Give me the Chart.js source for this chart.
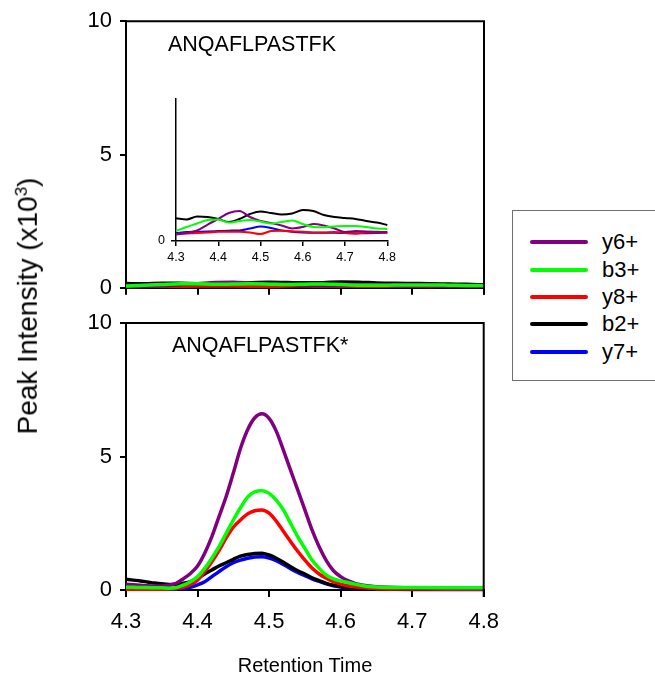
<!DOCTYPE html>
<html>
<head>
<meta charset="utf-8">
<script src="https://cdn.jsdelivr.net/npm/chart.js@4.4.1/dist/chart.umd.min.js"></script>
<style>
  body { margin: 0; background: #fff; font-family: "Liberation Sans", Arial, sans-serif; }
  #wrap { position: relative; width: 655px; height: 685px; overflow: hidden; }
  canvas { position: absolute; }
  .peptide { position: absolute; font-size: 21.5px; color: #000; line-height: 24px; white-space: nowrap; }
  #ytitle { position: absolute; left: 28px; top: 306px; transform: translate(-50%, -50%) rotate(-90deg);
            font-size: 28px; white-space: nowrap; }
  #ytitle sup { font-size: 17px; }
  #xtitle { position: absolute; left: 305px; top: 665px; transform: translate(-50%, -50%);
            font-size: 20px; white-space: nowrap; }
  #legend { position: absolute; left: 512px; top: 210px; width: 160px; height: 171px;
            border: 1px solid #707070; box-sizing: border-box; }
  .item { position: absolute; left: 17px; height: 24px; }
  .item span.ln { position: absolute; left: 0; top: 10px; width: 58px; height: 4px; border-radius: 2px; }
  .item span.tx { position: absolute; left: 72px; top: -1px; font-size: 22px; line-height: 26px; }
</style>
</head>
<body>
<div id="wrap">
  <canvas id="topChart" width="500" height="309" style="left:0;top:0"></canvas>
  <canvas id="bottomChart" width="511" height="385" style="left:0;top:300px"></canvas>
  <canvas id="insetChart" width="270" height="185" style="left:130px;top:85px"></canvas>
  <div class="peptide" style="left:168px;top:32px">ANQAFLPASTFK</div>
  <div class="peptide" style="left:172px;top:333px">ANQAFLPASTFK*</div>
  <div id="ytitle">Peak Intensity (x10<sup>3</sup>)</div>
  <div id="xtitle">Retention Time</div>
  <div id="legend"></div>
</div>
<script>
const FONT = '"Liberation Sans", Arial, sans-serif';

const seriesNames = ['y6+', 'b3+', 'y8+', 'b2+', 'y7+'];
const seriesColors = ['#800080', '#00FF00', '#FF0000', '#000000', '#0000FF'];
// green is drawn on top of the others
const seriesOrder = [1, 0, 2, 3, 4];

const xTicks = [4.3, 4.4, 4.5, 4.6, 4.7, 4.8];
const yTicks = [0, 5, 10];

// ANQAFLPASTFK (top panel + inset)
const timeTop = [4.3, 4.325, 4.35, 4.375, 4.4, 4.425, 4.45, 4.475, 4.5, 4.525, 4.55,
  4.575, 4.6, 4.625, 4.65, 4.675, 4.7, 4.725, 4.75, 4.775, 4.8];
const topY6 = [0.046, 0.056, 0.074, 0.116, 0.155, 0.197, 0.211, 0.169, 0.141, 0.127, 0.109,
  0.088, 0.099, 0.120, 0.109, 0.088, 0.063, 0.070, 0.067, 0.065, 0.063];
const topB3 = [0.070, 0.099, 0.123, 0.148, 0.151, 0.130, 0.141, 0.148, 0.137, 0.123, 0.134,
  0.144, 0.120, 0.099, 0.097, 0.102, 0.106, 0.106, 0.099, 0.088, 0.085];
const topY8 = [0.049, 0.053, 0.056, 0.060, 0.065, 0.065, 0.065, 0.060, 0.049, 0.070, 0.073,
  0.069, 0.065, 0.060, 0.060, 0.063, 0.056, 0.051, 0.060, 0.060, 0.058];
const topB2 = [0.160, 0.151, 0.173, 0.169, 0.155, 0.134, 0.155, 0.190, 0.208, 0.197, 0.187,
  0.194, 0.218, 0.211, 0.183, 0.169, 0.162, 0.155, 0.141, 0.130, 0.113];
const topY7 = [0.056, 0.063, 0.065, 0.067, 0.070, 0.073, 0.074, 0.088, 0.102, 0.092, 0.074,
  0.065, 0.060, 0.058, 0.058, 0.058, 0.056, 0.055, 0.055, 0.056, 0.058];

// ANQAFLPASTFK* (bottom panel)
const timeBottom = [4.30, 4.31, 4.32, 4.33, 4.34, 4.35, 4.36, 4.37, 4.38, 4.39,
  4.40, 4.41, 4.42, 4.43, 4.44, 4.45, 4.46, 4.47, 4.48, 4.49,
  4.50, 4.51, 4.52, 4.53, 4.54, 4.55, 4.56, 4.57, 4.58, 4.59,
  4.60, 4.61, 4.62, 4.63, 4.64, 4.65, 4.70, 4.75, 4.80];
const botY6 = [0.22, 0.20, 0.18, 0.16, 0.15, 0.15, 0.18, 0.25, 0.42, 0.62,
  0.90, 1.38, 2.00, 2.75, 3.50, 4.38, 5.30, 6.00, 6.45, 6.60,
  6.43, 5.95, 5.24, 4.49, 3.75, 3.00, 2.25, 1.62, 1.10, 0.72,
  0.50, 0.35, 0.25, 0.19, 0.15, 0.12, 0.08, 0.07, 0.06];
const botB3 = [0.10, 0.10, 0.09, 0.09, 0.08, 0.08, 0.07, 0.09, 0.18, 0.31,
  0.50, 0.81, 1.19, 1.62, 2.12, 2.62, 3.08, 3.48, 3.68, 3.72,
  3.62, 3.37, 3.00, 2.50, 2.00, 1.56, 1.12, 0.81, 0.56, 0.42,
  0.34, 0.28, 0.22, 0.17, 0.13, 0.11, 0.09, 0.08, 0.08];
const botY8 = [0.03, 0.03, 0.03, 0.03, 0.03, 0.03, 0.04, 0.06, 0.10, 0.20,
  0.37, 0.69, 1.06, 1.48, 1.95, 2.35, 2.62, 2.85, 2.97, 3.00,
  2.88, 2.58, 2.20, 1.82, 1.45, 1.12, 0.82, 0.60, 0.44, 0.31,
  0.22, 0.16, 0.12, 0.09, 0.07, 0.05, 0.04, 0.03, 0.03];
const botB2 = [0.40, 0.37, 0.34, 0.30, 0.26, 0.23, 0.21, 0.21, 0.25, 0.31,
  0.44, 0.60, 0.75, 0.90, 1.02, 1.15, 1.27, 1.33, 1.37, 1.38,
  1.31, 1.19, 1.04, 0.87, 0.72, 0.60, 0.46, 0.35, 0.25, 0.18,
  0.13, 0.09, 0.06, 0.05, 0.04, 0.03, 0.03, 0.03, 0.03];
const botY7 = [0.03, 0.03, 0.03, 0.03, 0.03, 0.03, 0.03, 0.04, 0.06, 0.10,
  0.19, 0.31, 0.50, 0.69, 0.87, 1.02, 1.12, 1.19, 1.24, 1.25,
  1.20, 1.10, 0.96, 0.80, 0.66, 0.54, 0.42, 0.32, 0.23, 0.16,
  0.11, 0.07, 0.05, 0.04, 0.03, 0.03, 0.02, 0.02, 0.02];

const topSeries = [topY6, topB3, topY8, topB2, topY7];
const bottomSeries = [botY6, botB3, botY8, botB2, botY7];

function toPoints(xs, ys) {
  return xs.map((x, i) => ({ x, y: ys[i] }));
}

function buildDatasets(xs, seriesList, width, tension) {
  return seriesList.map((ys, i) => ({
    label: seriesNames[i],
    data: toPoints(xs, ys),
    borderColor: seriesColors[i],
    backgroundColor: seriesColors[i],
    borderWidth: width,
    pointRadius: 0,
    tension,
    cubicInterpolationMode: 'monotone',
    fill: false,
    clip: false,
    order: seriesOrder[i]
  }));
}

const framePlugin = {
  id: 'frame',
  afterDraw(chart, args, opts) {
    if (!opts.show) return;
    const { left, top, right, bottom } = chart.chartArea;
    const ctx = chart.ctx;
    ctx.save();
    ctx.strokeStyle = '#000';
    ctx.lineWidth = 2;
    ctx.beginPath();
    ctx.moveTo(left - 1, top);
    ctx.lineTo(right, top);
    ctx.lineTo(right, bottom + 7);
    ctx.stroke();
    ctx.restore();
  }
};

function panelOptions(showXLabels, xHeight, rightPad) {
  return {
    responsive: false,
    animation: false,
    layout: { padding: { top: showXLabels ? 23 : 19, right: rightPad, left: 0, bottom: 0 } },
    plugins: { legend: { display: false }, tooltip: { enabled: false }, frame: { show: true } },
    scales: {
      x: {
        type: 'linear',
        min: 4.3,
        max: 4.8,
        afterBuildTicks: (s) => { s.ticks = xTicks.map((v) => ({ value: v })); },
        afterFit: (s) => { s.height = xHeight; },
        ticks: {
          display: showXLabels,
          color: '#000',
          font: { family: FONT, size: 22 },
          padding: 12,
          maxRotation: 0,
          autoSkip: false,
          callback: (v) => Number(v).toFixed(1)
        },
        grid: { drawOnChartArea: false, drawTicks: true, tickLength: 7, color: '#000', lineWidth: 2 },
        border: { display: true, color: '#000', width: 2 }
      },
      y: {
        min: 0,
        max: 10,
        afterBuildTicks: (s) => { s.ticks = yTicks.map((v) => ({ value: v })); },
        afterFit: (s) => { s.width = 126; },
        ticks: {
          color: '#000',
          font: { family: FONT, size: 22 },
          padding: 8
        },
        grid: { drawOnChartArea: false, drawTicks: true, tickLength: 6, color: '#000', lineWidth: 2 },
        border: { display: true, color: '#000', width: 2 }
      }
    }
  };
}

new Chart(document.getElementById('topChart'), {
  type: 'line',
  data: { datasets: buildDatasets(timeTop, topSeries, 3.5, 0.3) },
  options: panelOptions(false, 13, 16),
  plugins: [framePlugin]
});

new Chart(document.getElementById('bottomChart'), {
  type: 'line',
  data: { datasets: buildDatasets(timeBottom, bottomSeries, 3.5, 0.4) },
  options: panelOptions(true, 95, 12),
  plugins: [framePlugin]
});

new Chart(document.getElementById('insetChart'), {
  type: 'line',
  data: { datasets: buildDatasets(timeTop, topSeries, 2, 0.3) },
  options: {
    responsive: false,
    animation: false,
    layout: { padding: { top: 14, right: 9, left: 0, bottom: 0 } },
    plugins: { legend: { display: false }, tooltip: { enabled: false } },
    scales: {
      x: {
        type: 'linear',
        min: 4.3,
        max: 4.8,
        afterBuildTicks: (s) => { s.ticks = xTicks.map((v) => ({ value: v })); },
        afterFit: (s) => { s.height = 29; },
        ticks: {
          color: '#000',
          font: { family: FONT, size: 12.5 },
          padding: 4,
          maxRotation: 0,
          autoSkip: false,
          callback: (v) => Number(v).toFixed(1)
        },
        grid: { drawOnChartArea: false, drawTicks: true, tickLength: 5, color: '#000', lineWidth: 1.5 },
        border: { display: true, color: '#000', width: 1.5 }
      },
      y: {
        min: 0,
        max: 1,
        afterBuildTicks: (s) => { s.ticks = [{ value: 0 }]; },
        afterFit: (s) => { s.width = 46; },
        ticks: { color: '#000', font: { family: FONT, size: 12.5 }, padding: 6 },
        grid: { drawOnChartArea: false, drawTicks: true, tickLength: 5, color: '#000', lineWidth: 1.5 },
        border: { display: true, color: '#000', width: 1.5 }
      }
    }
  }
});

const legendBox = document.getElementById('legend');
const legendTops = [19, 47, 74, 101, 129];
seriesNames.forEach((name, i) => {
  const item = document.createElement('div');
  item.className = 'item';
  item.style.top = legendTops[i] + 'px';
  item.innerHTML = '<span class="ln" style="background:' + seriesColors[i] + '"></span>' +
    '<span class="tx">' + name + '</span>';
  legendBox.appendChild(item);
});
</script>
</body>
</html>
